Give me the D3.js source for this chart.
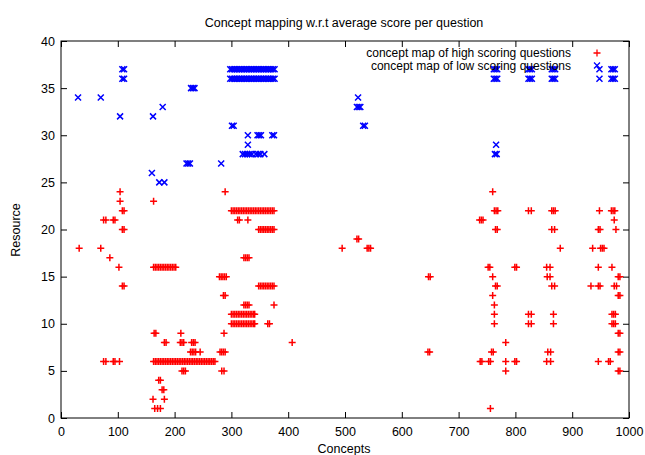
<!DOCTYPE html>
<html>
<head>
<meta charset="utf-8">
<script src="https://cdn.jsdelivr.net/npm/d3@7"></script>
<style>
  body { margin: 0; background: #fff; }
  svg text { font-family: "Liberation Sans", Arial, sans-serif; font-size: 12.5px; fill: #000; }
</style>
</head>
<body>
<svg class="chart" width="645" height="455"></svg>
<script>
// concept map of high scoring questions: [concept, resource]
const highScoring = [
  [104, 24], [289, 24], [760, 24],
  [104, 23], [163, 23],
  [108, 22], [111, 22],
  [300, 22], [303, 22], [306, 22], [309, 22], [312, 22], [315, 22], [318, 22], [321, 22], [324, 22],
  [327, 22], [330, 22], [333, 22], [336, 22], [339, 22], [342, 22], [345, 22], [348, 22], [351, 22],
  [354, 22], [357, 22], [360, 22], [363, 22], [366, 22], [369, 22], [372, 22], [375, 22],
  [763, 22], [766, 22], [769, 22], [823, 22], [828, 22], [864, 22], [867, 22], [870, 22], [948, 22],
  [969, 22], [972, 22], [975, 22],
  [75, 21], [79, 21], [92, 21], [95, 21], [311, 21], [314, 21], [329, 21], [737, 21], [740, 21], [743, 21], [974, 21],
  [108, 20], [111, 20],
  [348, 20], [351, 20], [354, 20], [357, 20], [360, 20], [363, 20], [366, 20], [369, 20], [372, 20], [375, 20],
  [765, 20], [768, 20], [864, 20], [869, 20], [946, 20], [949, 20], [977, 20],
  [521, 19], [524, 19],
  [32, 18], [70, 18], [495, 18], [539, 18], [542, 18], [545, 18], [879, 18], [936, 18], [950, 18], [953, 18], [956, 18],
  [86, 17], [322, 17], [325, 17], [328, 17], [331, 17],
  [102, 16],
  [163, 16], [166, 16], [169, 16], [172, 16], [175, 16], [178, 16], [181, 16], [184, 16], [187, 16],
  [190, 16], [193, 16], [196, 16], [199, 16], [202, 16],
  [752, 16], [755, 16], [799, 16], [802, 16], [855, 16], [861, 16], [946, 16], [970, 16],
  [279, 15], [282, 15], [285, 15], [288, 15], [291, 15], [647, 15], [650, 15], [760, 15], [856, 15], [861, 15],
  [981, 15], [984, 15],
  [108, 14], [111, 14],
  [348, 14], [351, 14], [354, 14], [357, 14], [360, 14], [363, 14], [366, 14], [369, 14], [372, 14], [375, 14],
  [765, 14], [768, 14], [864, 14], [869, 14], [933, 14], [946, 14], [949, 14], [974, 14], [978, 14],
  [286, 13], [289, 13], [760, 13], [981, 13], [984, 13],
  [322, 12], [325, 12], [328, 12], [331, 12], [375, 12], [763, 12],
  [300, 11], [303, 11], [306, 11], [309, 11], [312, 11], [315, 11], [318, 11], [321, 11], [324, 11],
  [327, 11], [330, 11], [333, 11], [336, 11], [339, 11], [341, 11],
  [763, 11], [823, 11], [828, 11], [867, 11], [970, 11], [973, 11], [976, 11],
  [300, 10], [303, 10], [306, 10], [309, 10], [312, 10], [315, 10], [318, 10], [321, 10], [324, 10],
  [327, 10], [330, 10], [333, 10], [336, 10], [339, 10], [341, 10], [364, 10], [367, 10],
  [763, 10], [823, 10], [828, 10], [867, 10], [970, 10], [973, 10], [976, 10],
  [164, 9], [167, 9], [211, 9], [287, 9], [981, 9], [984, 9],
  [182, 8], [185, 8], [210, 8], [213, 8], [216, 8], [230, 8], [233, 8], [236, 8], [407, 8], [783, 8],
  [228, 7], [231, 7], [234, 7], [237, 7], [245, 7], [280, 7], [283, 7], [286, 7], [289, 7],
  [646, 7], [649, 7], [758, 7], [761, 7], [857, 7], [862, 7], [981, 7], [984, 7],
  [75, 6], [79, 6], [92, 6], [95, 6], [103, 6],
  [163, 6], [166, 6], [169, 6], [172, 6], [175, 6], [178, 6], [181, 6], [184, 6], [187, 6], [190, 6],
  [193, 6], [196, 6], [199, 6], [202, 6], [205, 6], [208, 6], [211, 6], [214, 6], [217, 6], [220, 6],
  [223, 6], [226, 6], [229, 6], [232, 6], [235, 6], [238, 6], [241, 6], [244, 6], [247, 6], [250, 6],
  [253, 6], [256, 6], [259, 6], [262, 6], [265, 6], [268, 6], [271, 6],
  [738, 6], [741, 6], [753, 6], [756, 6], [783, 6], [799, 6], [802, 6], [855, 6], [862, 6], [946, 6],
  [964, 6], [967, 6],
  [213, 5], [216, 5], [219, 5], [283, 5], [287, 5], [783, 5], [981, 5], [984, 5],
  [172, 4], [175, 4],
  [178, 3], [181, 3],
  [162, 2], [182, 2],
  [165, 1], [170, 1], [175, 1], [756, 1]
]

// concept map of low scoring questions: [concept, resource]
const lowScoring = [
  [108, 37], [111, 37],
  [298, 37], [301, 37], [304, 37], [307, 37], [310, 37], [313, 37], [316, 37], [319, 37], [322, 37],
  [325, 37], [328, 37], [331, 37], [334, 37], [337, 37], [340, 37], [343, 37], [346, 37], [349, 37],
  [352, 37], [355, 37], [358, 37], [361, 37], [364, 37], [367, 37], [370, 37], [373, 37], [376, 37],
  [762, 37], [765, 37], [768, 37], [823, 37], [826, 37], [829, 37], [864, 37], [867, 37], [870, 37],
  [948, 37], [969, 37], [972, 37], [975, 37],
  [108, 36], [111, 36],
  [298, 36], [301, 36], [304, 36], [307, 36], [310, 36], [313, 36], [316, 36], [319, 36], [322, 36],
  [325, 36], [328, 36], [331, 36], [334, 36], [337, 36], [340, 36], [343, 36], [346, 36], [349, 36],
  [352, 36], [355, 36], [358, 36], [361, 36], [364, 36], [367, 36], [370, 36], [373, 36], [376, 36],
  [762, 36], [765, 36], [768, 36], [823, 36], [826, 36], [829, 36], [864, 36], [867, 36], [870, 36],
  [948, 36], [969, 36], [972, 36], [975, 36],
  [229, 35], [232, 35], [235, 35],
  [30, 34], [70, 34], [523, 34],
  [179, 33], [521, 33], [524, 33], [527, 33],
  [104, 32], [162, 32],
  [301, 31], [304, 31], [532, 31], [535, 31],
  [329, 30], [346, 30], [349, 30], [352, 30], [372, 30], [375, 30],
  [329, 29], [766, 29],
  [320, 28], [324, 28], [328, 28], [332, 28], [336, 28], [343, 28], [347, 28], [351, 28], [358, 28],
  [764, 28], [767, 28],
  [221, 27], [224, 27], [227, 27], [282, 27],
  [160, 26],
  [173, 25], [182, 25]
]

const xTicks = [0, 100, 200, 300, 400, 500, 600, 700, 800, 900, 1000]
const yTicks = [0, 5, 10, 15, 20, 25, 30, 35, 40]
const legendLabels = ["concept map of high scoring questions", "concept map of low scoring questions"]

const svg = d3.select("svg.chart")
const x = d3.scaleLinear().domain([0, 1000]).range([61, 629])
const y = d3.scaleLinear().domain([0, 40]).range([418, 41])

const plusPath = "M-3.5,0H3.5M0,-3.5V3.5"
const crossPath = "M-3,-3L3,3M-3,3L3,-3"

// points
svg.append("g")
  .selectAll("path")
  .data(highScoring)
  .enter()
  .append("path")
  .attr("d", plusPath)
  .attr("transform", (d) => `translate(${x(d[0])},${y(d[1])})`)
  .attr("stroke", "#ff0000")
  .attr("stroke-width", 1.5)
  .attr("fill", "none")

svg.append("g")
  .selectAll("path")
  .data(lowScoring)
  .enter()
  .append("path")
  .attr("d", crossPath)
  .attr("transform", (d) => `translate(${x(d[0])},${y(d[1])})`)
  .attr("stroke", "#0000ff")
  .attr("stroke-width", 1.5)
  .attr("fill", "none")

// axes, ticks inward on all four sides
svg.append("g").attr("transform", "translate(0,418)")
  .call(d3.axisBottom(x).tickValues(xTicks).tickFormat(d3.format("d"))
    .tickSizeInner(-6).tickSizeOuter(0).tickPadding(9))
svg.append("g").attr("transform", "translate(61,0)")
  .call(d3.axisLeft(y).tickValues(yTicks).tickSizeInner(-6).tickSizeOuter(0).tickPadding(6))
svg.append("g").attr("transform", "translate(0,41)")
  .call(d3.axisTop(x).tickValues(xTicks).tickSizeInner(-6).tickSizeOuter(0).tickFormat(""))
svg.append("g").attr("transform", "translate(629,0)")
  .call(d3.axisRight(y).tickValues(yTicks).tickSizeInner(-6).tickSizeOuter(0).tickFormat(""))

svg.selectAll(".domain").remove()
svg.selectAll(".tick text")
  .style("font-family", "'Liberation Sans', Arial, sans-serif")
  .style("font-size", "12.5px")
svg.selectAll(".tick line").attr("stroke", "#000")

svg.append("rect")
  .attr("x", 61).attr("y", 41)
  .attr("width", 568).attr("height", 377)
  .attr("fill", "none")
  .attr("stroke", "#000")

// title and axis labels
svg.append("text")
  .attr("x", 344).attr("y", 27)
  .attr("text-anchor", "middle")
  .text("Concept mapping w.r.t average score per question")

svg.append("text")
  .attr("x", 344).attr("y", 453)
  .attr("text-anchor", "middle")
  .text("Concepts")

svg.append("text")
  .attr("transform", "translate(20,230) rotate(-90)")
  .attr("text-anchor", "middle")
  .text("Resource")

// legend
const legend = svg.append("g")
legendLabels.forEach((label, i) => {
  legend.append("text")
    .attr("x", 571).attr("y", 56.5 + i * 13)
    .attr("text-anchor", "end")
    .style("font-size", "12px")
    .text(label)
  legend.append("path")
    .attr("d", i === 0 ? plusPath : crossPath)
    .attr("transform", `translate(597,${53 + i * 12.5})`)
    .attr("stroke", i === 0 ? "#ff0000" : "#0000ff")
    .attr("stroke-width", 1.3)
    .attr("fill", "none")
})
</script>
</body>
</html>
